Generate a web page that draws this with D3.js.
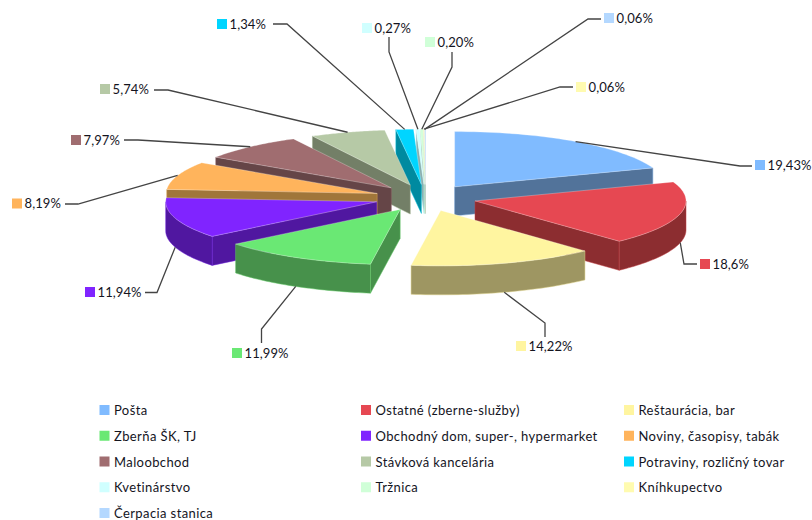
<!DOCTYPE html>
<html>
<head>
<meta charset="utf-8">
<script src="https://cdn.jsdelivr.net/npm/d3@7"></script>
<style>
	html, body { margin: 0; padding: 0; background: #fff; }
	text { font-family: Lato, sans-serif; font-size: 13px; letter-spacing: 0.4px; fill: #14141e; }
	.labels text { letter-spacing: 0.1px; }
</style>
</head>
<body>
<div id="chart"></div>
<script>
const categories = ['Pošta', 'Ostatné (zberne-služby)', 'Reštaurácia, bar', 'Zberňa ŠK, TJ',
	'Obchodný dom, super-, hypermarket', 'Noviny, časopisy, tabák', 'Maloobchod', 'Stávková kancelária',
	'Potraviny, rozličný tovar', 'Kvetinárstvo', 'Tržnica', 'Kníhkupectvo', 'Čerpacia stanica']
const values = [19.43, 18.6, 14.22, 11.99, 11.94, 8.19, 7.97, 5.74, 1.34, 0.27, 0.20, 0.06, 0.06]
const valueLabels = ['19,43%', '18,6%', '14,22%', '11,99%', '11,94%', '8,19%', '7,97%', '5,74%', '1,34%', '0,27%', '0,20%', '0,06%', '0,06%']
const topColors = ['#80bbff', '#e64852', '#fff5a0', '#6ae874', '#8024ff', '#ffb45c', '#a06d70', '#b6c9a6', '#00d5ff', '#d0ffff', '#d0ffd8', '#fffbb0', '#b4d8ff']
const wallColors = ['#52739a', '#8c2d30', '#9e9662', '#47914b', '#5017a0', '#a0763a', '#654547', '#737f67', '#008aa0', '#8ab0b0', '#8ab09a', '#a0a070', '#7a94b0']

// label layout, in slice order: elbow of the leader, end of the leader, marker position
const labelLayout = [
	{ elbow: [740, 166], end: [752, 166], mark: [755, 165] },
	{ elbow: [684, 264], end: [697, 264], mark: [700, 264] },
	{ elbow: [545, 323], end: [545, 337], mark: [516, 346] },
	{ elbow: [261.5, 329], end: [261.5, 343], mark: [232, 353] },
	{ elbow: [157, 292.5], end: [145, 292.5], mark: [85, 292] },
	{ elbow: [78, 204], end: [65, 204], mark: [12, 203.5] },
	{ elbow: [138, 140], end: [124, 140], mark: [71, 140] },
	{ elbow: [168, 90], end: [154, 90], mark: [100, 89] },
	{ elbow: [287, 24], end: [273, 24], mark: [217, 24] },
	{ elbow: [389, 52], end: [389, 37], mark: [362, 28] },
	{ elbow: [452, 67], end: [452, 52], mark: [425, 42] },
	{ elbow: [560, 87], end: [573, 87], mark: [576, 87] },
	{ elbow: [588, 19], end: [601, 19], mark: [604, 18] }
]

const width = 812
const height = 520

const cx = 425.4
const cy = 197.8
const radius = 211
const squash = 0.262
const explode = 51 / radius
const depth = 29

const svg = d3.select('#chart')
	.append('svg')
		.attr('width', width)
		.attr('height', height)

const xScale = d3.scaleLinear().domain([-1, 1]).range([cx - radius, cx + radius])
const yScale = d3.scaleLinear().domain([-1, 1]).range([cy + radius * squash, cy - radius * squash])

const pie = d3.pie().sort(null).value(d => d)
const slices = pie(values).map((d, i) => ({ ...d, i, mid: (d.startAngle + d.endAngle) / 2 }))

const line = d3.line()

// point on a slice, r is a fraction of the radius, drop is how far down the wall
const project = (s, angle, r, drop = 0) => [
	xScale(explode * Math.sin(s.mid) + r * Math.sin(angle)),
	yScale(explode * Math.cos(s.mid) + r * Math.cos(angle)) + drop
]

const arcPoints = (s, a0, a1, drop = 0) => d3.range(0, 41).map(k => project(s, a0 + (a1 - a0) * k / 40, 1, drop))

const wallQuad = (s, angle) => [project(s, 0, 0), project(s, angle, 1), project(s, angle, 1, depth), project(s, 0, 0, depth)]

const pieG = svg.append('g').attr('class', 'pie-g')

// back to front
const ordered = slices.slice().sort((a, b) => Math.cos(b.mid) - Math.cos(a.mid))

ordered.forEach(s => {
	const g = pieG.append('g').attr('class', 'slice')
	const wall = wallColors[s.i]
	const addWall = pts => g.append('path')
		.attr('d', line(pts) + 'Z')
		.style('fill', wall)
		.style('stroke', d3.color(wall).brighter(0.9))
		.style('stroke-width', 0.5)

	if (Math.sin(s.startAngle) < 0) addWall(wallQuad(s, s.startAngle))
	if (Math.sin(s.endAngle) > 0) addWall(wallQuad(s, s.endAngle))

	const a0 = Math.max(s.startAngle, Math.PI / 2)
	const a1 = Math.min(s.endAngle, Math.PI * 1.5)
	if (a1 > a0) {
		addWall(arcPoints(s, a0, a1).concat(arcPoints(s, a1, a0, depth)))
	}

	g.append('path')
		.attr('d', line([project(s, 0, 0)].concat(arcPoints(s, s.startAngle, s.endAngle))) + 'Z')
		.style('fill', topColors[s.i])
		.style('stroke', '#fff')
		.style('stroke-opacity', 0.45)
		.style('stroke-width', 0.6)
})

// leaders and value labels
const leaderStart = s => {
	const front = Math.cos(s.mid) < 0
	return project(s, s.mid, 1, front ? depth : 0)
}

const labelG = svg.append('g').attr('class', 'labels')

slices.forEach(s => {
	const l = labelLayout[s.i]
	labelG.append('path')
		.attr('d', line([leaderStart(s), l.elbow, l.end]))
		.style('fill', 'none')
		.style('stroke', '#444')
		.style('stroke-width', 1.3)
	labelG.append('rect')
		.attr('x', l.mark[0])
		.attr('y', l.mark[1] - 5)
		.attr('width', 10)
		.attr('height', 10)
		.style('fill', topColors[s.i])
	labelG.append('text')
		.attr('x', l.mark[0] + 12.5)
		.attr('y', l.mark[1] + 4.5)
		.text(valueLabels[s.i])
})

// legend
const legendY = d3.scalePoint().domain([0, 1, 2, 3, 4]).range([410, 513])
const legendCols = [99.5, 361, 624]

const legend = svg.append('g').attr('class', 'legend')
	.selectAll('g')
	.data(categories)
	.enter()
	.append('g')
		.attr('transform', (d, i) => `translate(${legendCols[i % 3]}, ${legendY(Math.floor(i / 3))})`)

legend.append('rect')
	.attr('x', 0)
	.attr('y', -5)
	.attr('width', 10)
	.attr('height', 10)
	.style('fill', (d, i) => topColors[i])

legend.append('text')
	.attr('x', 14.5)
	.attr('y', 5)
	.text(d => d)
</script>
</body>
</html>
